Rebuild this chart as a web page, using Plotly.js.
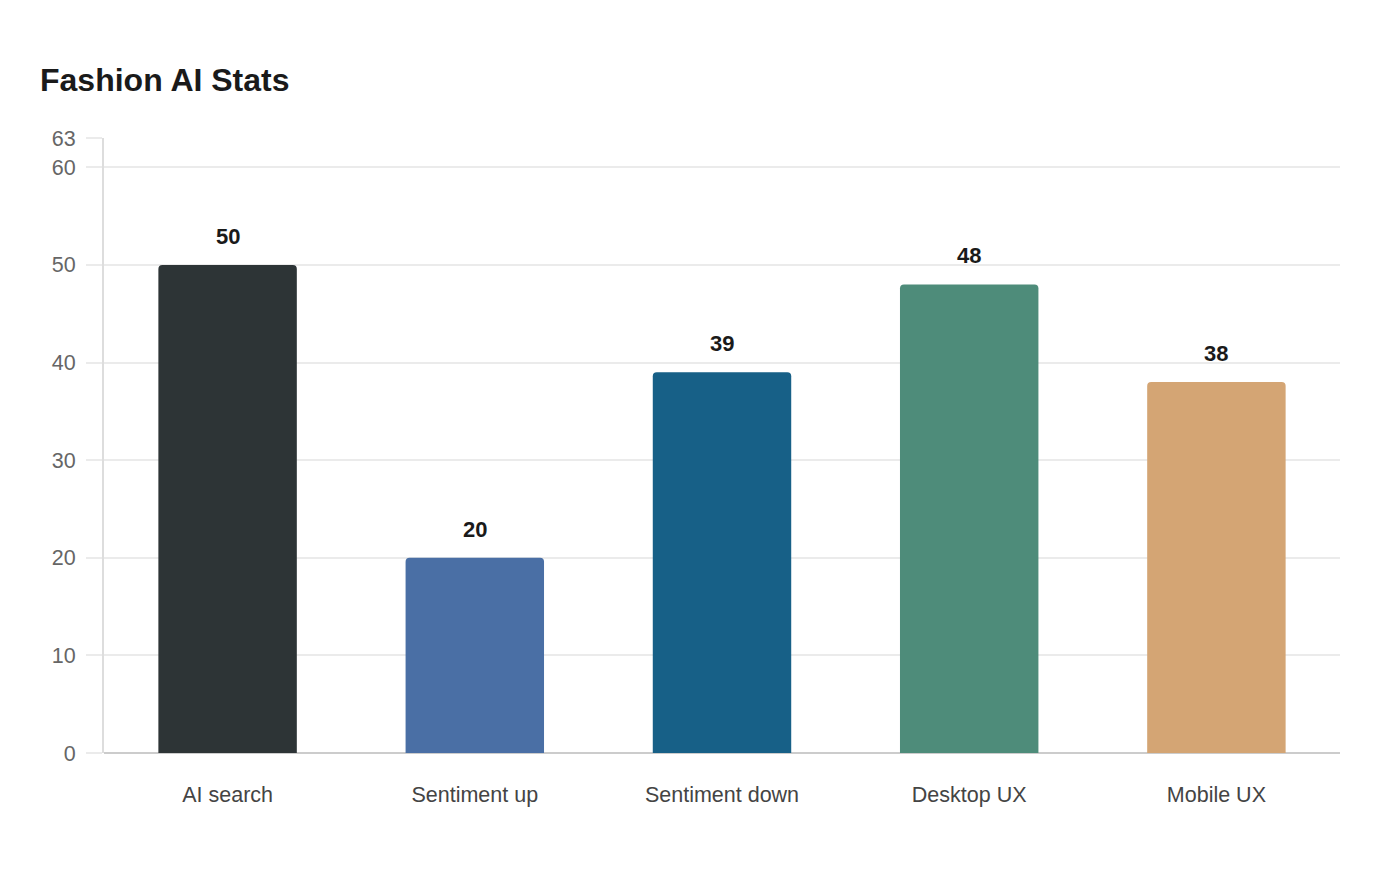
<!DOCTYPE html>
<html>
<head>
<meta charset="utf-8">
<script src="https://cdn.plot.ly/plotly-3.0.1.min.js"></script>
<style>
  html, body { margin: 0; padding: 0; background: #fff; }
  #chart { width: 1400px; height: 880px; }
</style>
</head>
<body>
<div id="chart"></div>
<script>
var categories = ["AI search", "Sentiment up", "Sentiment down", "Desktop UX", "Mobile UX"];
var values     = [50, 20, 39, 48, 38];
var barColors  = ["#2d3436", "#4a6fa5", "#176087", "#4e8c7a", "#d4a574"];
var yTicks     = [0, 10, 20, 30, 40, 50, 60, 63];

var bars = {
    type: "bar",
    x: categories,
    y: values,
    width: 0.56,
    marker: { color: barColors, cornerradius: 4, line: { width: 0 } },
    hoverinfo: "x+y"
};

// value labels sit a bit higher than textposition outside would put them
var labels = categories.map(function (c, i) {
    return {
        x: c, y: values[i], xref: "x", yref: "y",
        text: "<b>" + values[i] + "</b>",
        showarrow: false, yanchor: "bottom", yshift: 14,
        font: { family: "Liberation Sans, Arial, sans-serif", size: 22, color: "#1a1a1a" }
    };
});

var layout = {
    width: 1400,
    height: 880,
    margin: { l: 104, r: 60, t: 138, b: 127 },
    paper_bgcolor: "#ffffff",
    plot_bgcolor: "#ffffff",
    font: { family: "Liberation Sans, Arial, sans-serif" },
    title: {
        text: "<b>Fashion AI Stats</b>",
        x: 40 / 1400, xref: "container", xanchor: "left",
        y: 1 - 80 / 880, yref: "container", yanchor: "middle",
        font: { size: 32, color: "#1a1a1a" }
    },
    showlegend: false,
    bargap: 0.44,
    xaxis: {
        type: "category",
        showgrid: false,
        showline: false,
        ticks: "",
        tickfont: { size: 21.5, color: "#444444" },
        ticklabelstandoff: 26
    },
    yaxis: {
        range: [0, 63],
        tickvals: yTicks,
        ticktext: yTicks.map(String),
        showgrid: true,
        gridcolor: "#ebebeb",
        gridwidth: 1.5,
        zeroline: true,
        zerolinecolor: "#cccccc",
        zerolinewidth: 2,
        showline: true,
        linecolor: "#dddddd",
        linewidth: 2,
        ticks: "outside",
        ticklen: 16,
        tickcolor: "#ebebeb",
        tickwidth: 1.5,
        ticklabelstandoff: 6,
        tickfont: { size: 21.5, color: "#666666" }
    },
    annotations: labels
};

Plotly.newPlot("chart", [bars], layout, { displayModeBar: false });
</script>
</body>
</html>
